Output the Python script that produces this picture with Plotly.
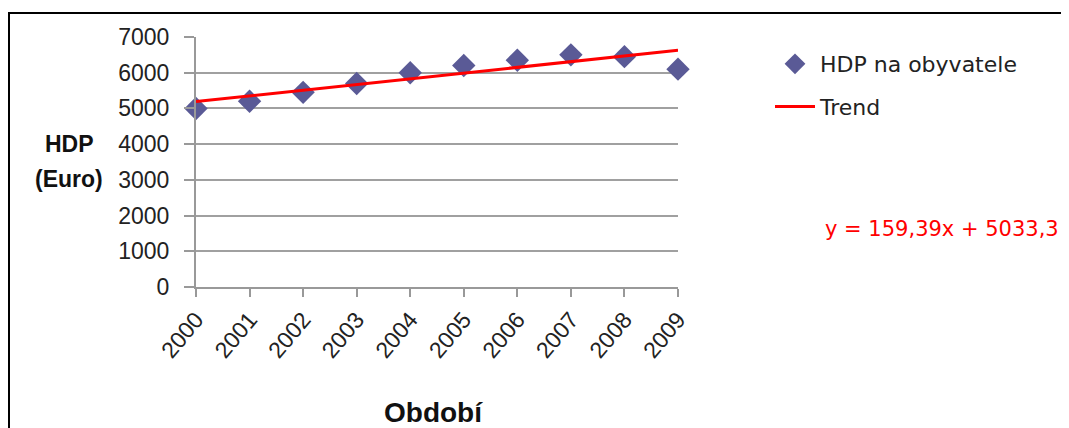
import plotly.graph_objects as go

# ---- data ----
years = [2000, 2001, 2002, 2003, 2004, 2005, 2006, 2007, 2008, 2009]
hdp = [5000, 5200, 5450, 5700, 6000, 6200, 6350, 6500, 6450, 6100]
trend_slope = 159.39
trend_intercept = 5033.3
y_ticks = [0, 1000, 2000, 3000, 4000, 5000, 6000, 7000]
trend = [trend_intercept + trend_slope * (i + 1) for i in range(len(years))]

# page is rendered with an 8px body margin
OFF = 8
W, H = 1061, 420
ML, MT = 196 - OFF, 37 - OFF
MR = W - (678 - OFF)
MB = H - (287 - OFF)
PW, PH = W - ML - MR, H - MT - MB


def px(x_page):
    return (x_page - OFF - ML) / PW


def py(y_page):
    return (H - MB - (y_page - OFF)) / PH


fig = go.Figure()
fig.add_trace(go.Scatter(
    x=years, y=hdp, mode="markers", name="HDP na obyvatele",
    marker=dict(symbol="diamond", size=18, color="#5A5A96"),
    legendgroup="a", cliponaxis=False,
))
fig.add_trace(go.Scatter(
    x=years, y=trend, mode="lines", name="Trend",
    line=dict(color="#FF0000", width=3),
    legendgroup="b",
))

axis_font = dict(family="Liberation Sans, Arial, sans-serif", size=23, color="#222222")

fig.update_layout(
    width=W, height=H,
    margin=dict(l=ML, r=MR, t=MT, b=MB),
    paper_bgcolor="white", plot_bgcolor="white",
    showlegend=True,
    legend=dict(
        x=px(770), y=py(43), xanchor="left", yanchor="top",
        font=dict(family="DejaVu Sans, sans-serif", size=22, color="#222222"),
        traceorder="grouped", tracegroupgap=11, itemwidth=40,
        bgcolor="rgba(0,0,0,0)",
    ),
    xaxis=dict(
        range=[2000, 2009], tickvals=years, ticktext=[str(v) for v in years],
        tickangle=-50, tickfont=axis_font,
        showgrid=False, zeroline=False,
        showline=True, linecolor="#999999", linewidth=2,
        ticks="outside", ticklen=8, tickwidth=2, tickcolor="#999999",
    ),
    yaxis=dict(
        range=[0, 7000], tickvals=y_ticks, tickfont=axis_font,
        showgrid=True, gridcolor="#A0A0A0", gridwidth=2,
        zeroline=False,
        showline=True, linecolor="#999999", linewidth=2,
        ticks="outside", ticklen=10, tickwidth=2, tickcolor="#999999",
        ticklabelstandoff=10,
    ),
    annotations=[
        dict(text="<b>HDP</b>", xref="paper", yref="paper",
             x=px(70), y=py(144), xanchor="center", yanchor="middle",
             showarrow=False,
             font=dict(family="Liberation Sans, Arial, sans-serif", size=23, color="#111111")),
        dict(text="<b>(Euro)</b>", xref="paper", yref="paper",
             x=px(69), y=py(179), xanchor="center", yanchor="middle",
             showarrow=False,
             font=dict(family="Liberation Sans, Arial, sans-serif", size=23, color="#111111")),
        dict(text="<b>Období</b>", xref="paper", yref="paper",
             x=px(433), y=py(412), xanchor="center", yanchor="middle",
             showarrow=False,
             font=dict(family="Liberation Sans Narrow, Liberation Sans, Arial, sans-serif",
                       size=28, color="#111111")),
        dict(text="y = 159,39x + 5033,3", xref="paper", yref="paper",
             x=px(823), y=py(229), xanchor="left", yanchor="middle",
             showarrow=False,
             font=dict(family="DejaVu Sans, sans-serif", size=21, color="#FF0000")),
    ],
    shapes=[
        dict(type="line", xref="paper", yref="paper",
             x0=px(OFF), x1=px(W + OFF + 5), y0=py(13), y1=py(13),
             line=dict(color="#000000", width=2)),
        dict(type="line", xref="paper", yref="paper",
             x0=px(OFF + 1), x1=px(OFF + 1), y0=py(13), y1=py(H + OFF + 5),
             line=dict(color="#000000", width=2)),
    ],
)

fig.write_html("out.html")
